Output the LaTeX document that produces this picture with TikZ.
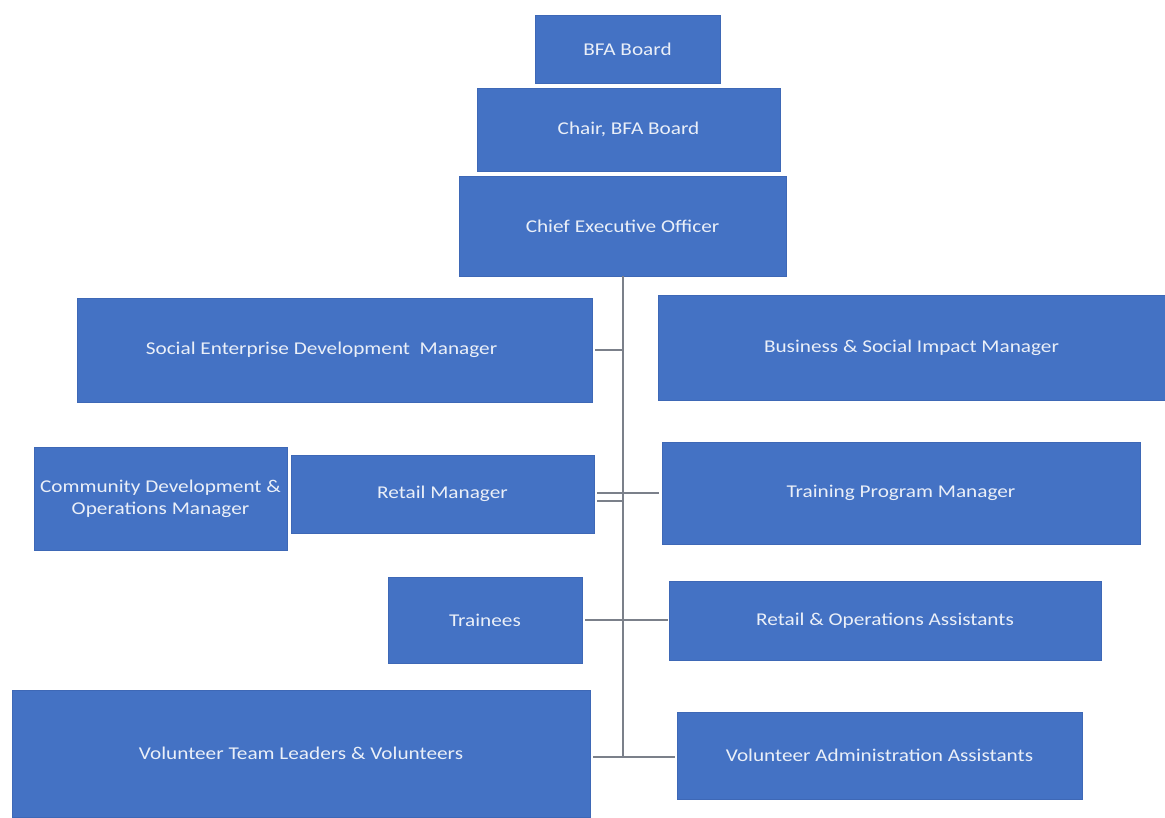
\documentclass[tikz,border=0pt]{standalone}
\usepackage{fontspec}
\setmainfont{Carlito}[FakeStretch=1.18]
\definecolor{boxblue}{HTML}{4472C4}
\definecolor{boxedge}{HTML}{3E68B6}
\definecolor{txt}{HTML}{EAEFF8}
\definecolor{linegray}{HTML}{7B808A}
\begin{document}
\begin{tikzpicture}[x=1pt,y=-1pt,
  box/.style={fill=boxblue,draw=boxedge,line width=0.6pt,inner sep=0pt,outer sep=0pt,
    text=txt,font=\fontsize{18}{22}\selectfont,align=center},
  conn/.style={draw=linegray,line width=2pt}]
\useasboundingbox[fill=white] (0,0) rectangle (1165,817);
\node[box,minimum width=185,minimum height=68] (bfa) at (627.5,49) {BFA Board};
\node[box,minimum width=303,minimum height=83] (chair) at (628.5,129.5) {Chair, BFA Board};
\node[box,minimum width=327,minimum height=100] (ceo) at (622.5,226) {Chief Executive Officer};
\node[box,minimum width=515,minimum height=104] (sedm) at (334.5,350) {Social Enterprise Development~ Manager\hspace*{26pt}};
\node[box,minimum width=507,minimum height=105] (bsim) at (911.5,347.5) {Business \& Social Impact Manager};
\node[box,minimum width=253,minimum height=103] (cdom) at (160.5,498.5) {Community Development \&\\Operations Manager};
\node[box,minimum width=303,minimum height=78] (rm) at (442.5,494) {Retail Manager};
\node[box,minimum width=478,minimum height=102] (tpm) at (901,493) {Training Program Manager};
\node[box,minimum width=194,minimum height=86] (tr) at (485,620) {Trainees};
\node[box,minimum width=432,minimum height=79] (roa) at (885,620.5) {Retail \& Operations Assistants};
\node[box,minimum width=578,minimum height=127] (vtl) at (301,753.5) {Volunteer Team Leaders \& Volunteers};
\node[box,minimum width=405,minimum height=87] (vaa) at (879.5,755.5) {Volunteer Administration Assistants};
\coordinate (top) at (623,276);
\coordinate (bot) at (623,757);
\draw[conn] (top) -- (bot);
\draw[conn] ([xshift=3pt]sedm.east) -- (sedm.east -| top);
\draw[conn] ([xshift=3pt]rm.east |- tpm.west) -- ([xshift=-3pt]tpm.west);
\draw[conn] ([xshift=3pt,yshift=-7pt]rm.east) -- ([yshift=-7pt]rm.east -| top);
\draw[conn] ([xshift=3pt]tr.east) -- ([xshift=-1pt]roa.west |- tr.east);
\draw[conn] ([xshift=3pt]vtl.east |- bot) -- ([xshift=-2pt]vaa.west |- bot);
\end{tikzpicture}
\end{document}
